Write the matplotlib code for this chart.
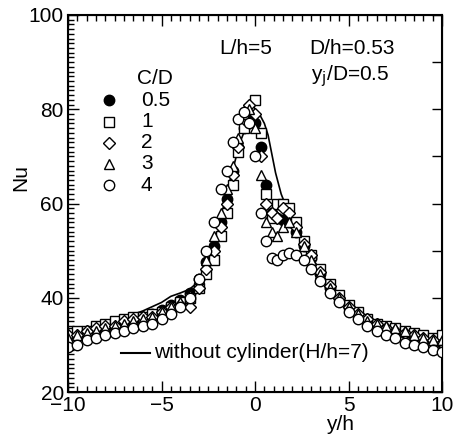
import numpy as np
import matplotlib.pyplot as plt
from matplotlib.ticker import MultipleLocator

plt.rcParams['font.family'] = ['Liberation Sans', 'DejaVu Sans']

# measurement positions y/h (shared by all C/D series)
y_h = [-10, -9.5, -9, -8.5, -8, -7.5, -7, -6.5, -6, -5.5, -5, -4.5, -4,
       -3.5, -3.0, -2.6, -2.2, -1.8, -1.5, -1.2, -0.9, -0.6, -0.3, 0, 0.3,
       0.6, 0.9, 1.2, 1.5, 1.8, 2.2, 2.6, 3.0, 3.5,
       4, 4.5, 5, 5.5, 6, 6.5, 7, 7.5, 8, 8.5, 9, 9.5, 10]

nu_cd05 = [32, 32.5, 33, 33.5, 34, 34.5, 35, 35.5, 36, 36.5, 37.5, 38.5, 39.5,
           41, 44, 47.5, 51, 56, 61, 67, 72, 76, 78, 77, 72,
           64, 58, 57, 56.5, 56, 54, 51, 48.5, 45,
           42, 40, 38, 36.5, 35.5, 34.5, 33.5, 33, 32.5, 32, 31.5, 31, 30.5]
nu_cd1 = [32.5, 33, 33, 34, 34.5, 35, 35.5, 36, 36, 36.5, 37, 38, 39,
          40, 42, 45, 48, 53, 58, 64, 71, 76, 80, 82, 75,
          62, 57, 60, 60, 59, 56, 52, 49, 46,
          43, 40.5, 38.5, 37, 35.5, 34.5, 34, 33.5, 33, 32.5, 32, 31.5, 32]
nu_cd2 = [32, 32, 33, 33.5, 34, 34, 35, 35.5, 36, 36, 37, 38, 38.5,
          38, 42, 46, 50, 55, 60, 66, 72, 78, 81, 79, 70,
          60, 58, 57, 59, 58, 55, 51.5, 49, 45.5,
          42.5, 40, 38, 36.5, 35.5, 34.5, 33.5, 33, 32.5, 32, 31.5, 31, 30.5]
nu_cd3 = [31.5, 32, 32.5, 33, 33.5, 34, 34.5, 35, 35.5, 36, 37, 38, 39,
          40.5, 44, 48, 53, 58, 63, 68, 74, 79, 80, 76, 66,
          56, 54, 53, 55, 56, 54, 51, 48, 45,
          42, 40, 38, 36.5, 35, 34.5, 34, 33.5, 33, 32, 31.5, 31, 31]
nu_cd4 = [29.5, 30, 31, 31.5, 32, 32.5, 33, 33.5, 34, 34.5, 35.5, 36.5, 38,
          40, 44, 50, 56, 63, 67, 73, 78, 79.5, 77, 70, 58,
          52, 48.5, 48, 49, 49.5, 49, 48, 46, 43.5,
          41, 39, 37, 35.5, 34, 33, 32, 31.5, 30.5, 30, 29.5, 29, 28.5]

# reference curve without cylinder (H/h=7)
line_x = [-10, -9, -8, -7, -6, -5, -4.5, -4, -3.5, -3, -2.5, -2.0, -1.6, -1.2,
          -0.8, -0.4, 0, 0.3, 0.5, 0.7, 0.9, 1.1, 1.4, 1.7, 2.0, 2.5, 3, 3.5,
          4, 4.5, 5, 5.5, 6, 7, 8, 9, 10]
line_nu = [32.5, 33.5, 34.5, 35.8, 37.2, 39, 40.3, 41, 41.8, 43.5, 47.5, 53.5,
           61, 67, 73, 77, 79, 78.5, 77, 74.5, 70.5, 66.5, 62, 59, 57, 53, 49,
           45.5, 42.5, 40, 38, 36.5, 35.3, 33.8, 32.5, 31.5, 30.8]

series = [("0.5", nu_cd05, 'o', 'black'),
          ("1", nu_cd1, 's', 'white'),
          ("2", nu_cd2, 'D', 'white'),
          ("3", nu_cd3, '^', 'white'),
          ("4", nu_cd4, 'o', 'white')]
sizes = {'o': 7.5, 's': 7, 'D': 6, '^': 7.5}

fig = plt.figure(figsize=(4.58, 4.34), dpi=100)
ax = fig.add_axes([68/458, 1 - 392/434, 374/458, 377/434])

ax.plot(line_x, line_nu, color='black', lw=1.2, zorder=2)
for lab, nu, m, fc in series:
    ax.plot(y_h, nu, ls='none', marker=m, ms=sizes[m], mfc=fc, mec='black',
            mew=1.0, zorder=3)

ax.set_xlim(-10, 10)
ax.set_ylim(20, 100)
ax.xaxis.set_major_locator(MultipleLocator(5))
ax.xaxis.set_minor_locator(MultipleLocator(0.5))
ax.yaxis.set_major_locator(MultipleLocator(20))
ax.yaxis.set_minor_locator(MultipleLocator(1))
ax.tick_params(which='both', direction='in', top=True, right=False,
               labelsize=15, width=1.0, pad=3)
ax.tick_params(which='major', length=8)
ax.tick_params(which='minor', length=4)
for s in ax.spines.values():
    s.set_linewidth(1.5)

# right axis: ticks every 10, inward
axr = ax.twinx()
axr.set_ylim(20, 100)
axr.yaxis.set_major_locator(MultipleLocator(10))
axr.tick_params(direction='in', length=7, width=1.0, labelright=False)

ax.set_xlabel("y/h", fontsize=15, va='top')
ax.xaxis.set_label_coords((340 - 68) / 374, -0.062)
ax.set_ylabel("Nu", fontsize=15, va='center')
ax.yaxis.set_label_coords(-(68 - 21) / 374, 0.57)

ax.text(-1.9, 92.8, "L/h=5", fontsize=15, va='center')
ax.text(2.9, 92.8, "D/h=0.53", fontsize=15, va='center')
ax.text(3.0, 87.0, r"y$_\mathrm{j}$/D=0.5", fontsize=15, va='center')

# legend for C/D
ax.text(-6.3, 86.6, "C/D", fontsize=15, va='center')
for i, (lab, nu, m, fc) in enumerate(series):
    yy = 81.9 - i * 4.5
    ax.plot([-7.8], [yy], ls='none', marker=m, ms=sizes[m], mfc=fc,
            mec='black', mew=1.0)
    ax.text(-6.1, yy, lab, fontsize=15, va='center')

ax.plot([-7.18, -5.6], [28.3, 28.3], color='black', lw=1.5)
ax.text(-5.42, 28.3, "without cylinder(H/h=7)", fontsize=15, va='center')

fig.savefig("out.png", dpi=100)
